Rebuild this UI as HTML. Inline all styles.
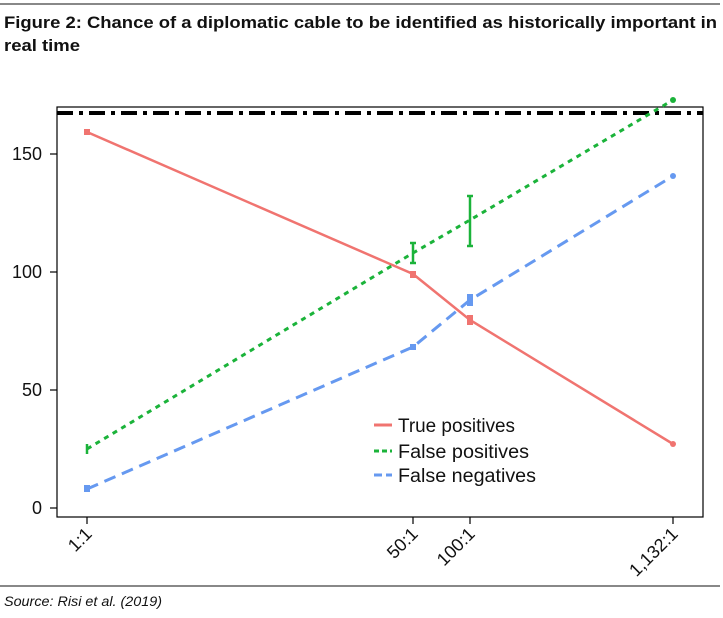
<!DOCTYPE html>
<html><head><style>
body{margin:0;background:#fff;width:723px;height:613px;overflow:hidden;font-family:"Liberation Sans",sans-serif}
</style></head><body>
<svg width="723" height="613" xmlns="http://www.w3.org/2000/svg" font-family="Liberation Sans, sans-serif">
<rect x="0" y="3" width="720" height="2" fill="#888"/>
<text x="4" y="28" font-size="17" font-weight="bold" fill="#111" textLength="713" lengthAdjust="spacingAndGlyphs">Figure 2: Chance of a diplomatic cable to be identified as historically important in</text>
<text x="4" y="51" font-size="17" font-weight="bold" fill="#111" textLength="76" lengthAdjust="spacingAndGlyphs">real time</text>
<rect x="57" y="107" width="646" height="410" fill="none" stroke="#000" stroke-width="1.2"/>
<g stroke="#000" stroke-width="1.2">
<line x1="50" y1="508" x2="57" y2="508"/><line x1="50" y1="390" x2="57" y2="390"/><line x1="50" y1="272" x2="57" y2="272"/><line x1="50" y1="154" x2="57" y2="154"/>
<line x1="87" y1="517" x2="87" y2="524"/><line x1="413" y1="517" x2="413" y2="524"/><line x1="470" y1="517" x2="470" y2="524"/><line x1="673" y1="517" x2="673" y2="524"/>
</g>
<g font-size="18" fill="#111" text-anchor="end">
<text x="42" y="514">0</text><text x="42" y="396">50</text><text x="42" y="278">100</text><text x="42" y="160">150</text>
<text transform="translate(93,535) rotate(-45)">1:1</text>
<text transform="translate(419,535) rotate(-45)">50:1</text>
<text transform="translate(476,535) rotate(-45)">100:1</text>
<text transform="translate(679,535) rotate(-45)">1,132:1</text>
</g>
<line x1="57" y1="113" x2="703" y2="113" stroke="#000" stroke-width="4" stroke-dasharray="16,6,4,6"/>
<polyline points="87,132 413,274 470,320 673,444" fill="none" stroke="#f07470" stroke-width="2.5"/>
<polyline points="87,449 413,253 470,220 673,100" fill="none" stroke="#1bb33a" stroke-width="3" stroke-dasharray="5,5"/>
<polyline points="87,489 413,347 470,300 673,176" fill="none" stroke="#6699f0" stroke-width="3" stroke-dasharray="12,7"/>
<g stroke="#1bb33a" stroke-width="2.5" fill="none"><line x1="413" y1="243" x2="413" y2="263"/><line x1="410" y1="243" x2="416" y2="243"/><line x1="410" y1="263" x2="416" y2="263"/>
<line x1="470" y1="196" x2="470" y2="246"/><line x1="467" y1="196" x2="473" y2="196"/><line x1="467" y1="246" x2="473" y2="246"/>
<line x1="87" y1="444" x2="87" y2="454"/></g>
<g fill="#f07470"><rect x="84" y="129" width="6" height="6"/><rect x="410" y="271" width="6" height="7"/><rect x="467" y="315" width="6" height="10"/><circle cx="673" cy="444" r="3"/></g>
<g fill="#1bb33a"><circle cx="673" cy="100" r="3"/></g>
<g fill="#6699f0"><rect x="84" y="485" width="6" height="7"/><rect x="410" y="344" width="6" height="6"/><rect x="467" y="294" width="6" height="12"/><circle cx="673" cy="176" r="3"/></g>
<g stroke-width="3"><line x1="374" y1="425" x2="392" y2="425" stroke="#f07470"/><line x1="374" y1="451" x2="392" y2="451" stroke="#1bb33a" stroke-dasharray="5,3"/><line x1="374" y1="475" x2="392" y2="475" stroke="#6699f0" stroke-dasharray="8,4"/></g>
<g font-size="19" fill="#111"><text x="398" y="432" textLength="117" lengthAdjust="spacingAndGlyphs">True positives</text><text x="398" y="458" textLength="131" lengthAdjust="spacingAndGlyphs">False positives</text><text x="398" y="482" textLength="138" lengthAdjust="spacingAndGlyphs">False negatives</text></g>
<rect x="0" y="585" width="720" height="2" fill="#888"/>
<text x="4" y="606" font-size="14" font-style="italic" fill="#111" textLength="158" lengthAdjust="spacingAndGlyphs">Source: Risi et al. (2019)</text>
</svg>
</body></html>
